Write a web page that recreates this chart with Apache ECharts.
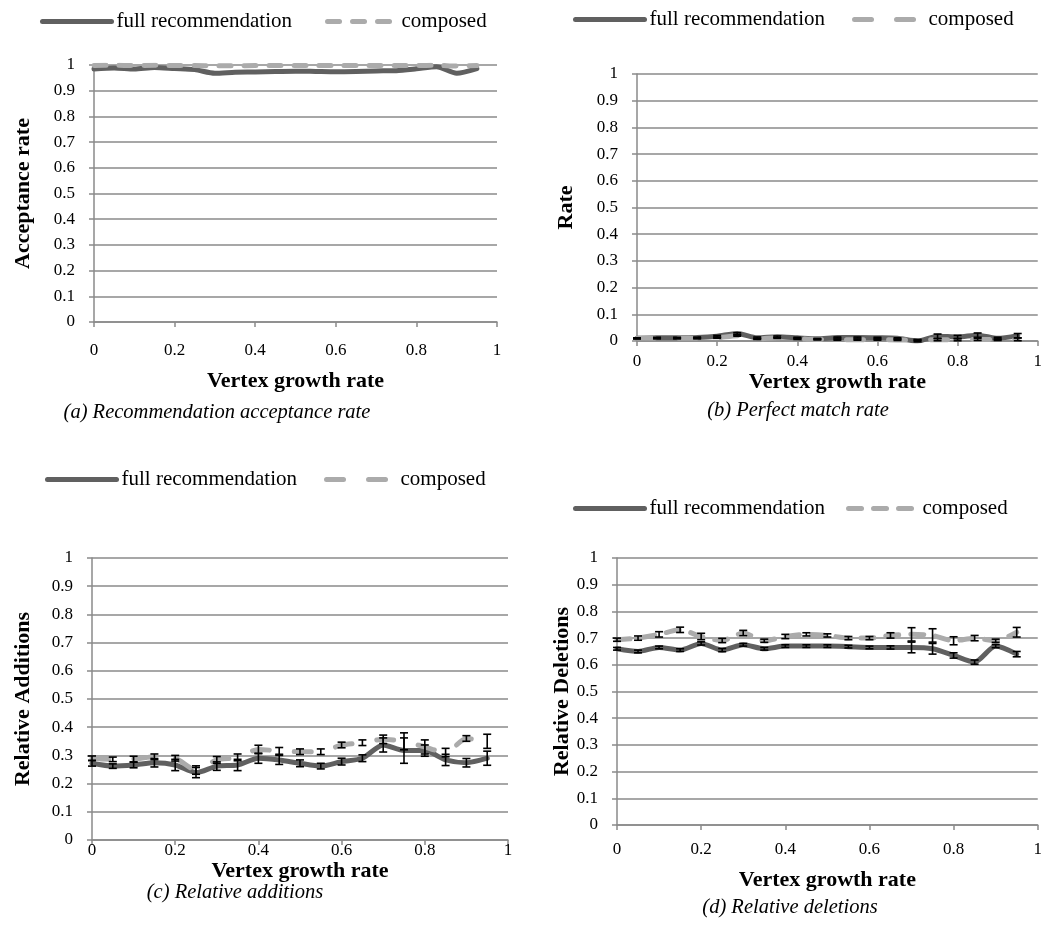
<!DOCTYPE html>
<html>
<head>
<meta charset="utf-8">
<script src="https://cdn.jsdelivr.net/npm/echarts@6/dist/echarts.min.js"></script>
<style>
html,body{margin:0;padding:0;background:#fff;}
#main{width:1045px;height:946px;}
</style>
</head>
<body>
<div id="main"></div>
<script>
// 横轴：顶点增长率
const growth = [0, 0.05, 0.1, 0.15, 0.2, 0.25, 0.3, 0.35, 0.4, 0.45, 0.5, 0.55, 0.6, 0.65, 0.7, 0.75, 0.8, 0.85, 0.9, 0.95];
const seriesNames = ['full recommendation', 'composed'];

// (a) acceptance rate
const accFull = [0.984, 0.988, 0.984, 0.99, 0.986, 0.982, 0.968, 0.972, 0.973, 0.975, 0.976, 0.975, 0.974, 0.975, 0.977, 0.978, 0.985, 0.993, 0.968, 0.986];
const accComp = [0.998, 0.999, 0.998, 0.999, 0.998, 0.998, 0.997, 0.997, 0.998, 0.998, 0.998, 0.998, 0.998, 0.998, 0.998, 0.998, 0.998, 0.999, 0.996, 0.998];

// (b) perfect match rate
const matchFull = [0.01, 0.012, 0.012, 0.013, 0.018, 0.028, 0.012, 0.016, 0.012, 0.008, 0.013, 0.013, 0.012, 0.01, 0.0, 0.018, 0.015, 0.022, 0.01, 0.02];
const matchComp = [0.01, 0.01, 0.01, 0.01, 0.012, 0.02, 0.008, 0.012, 0.008, 0.006, 0.005, 0.005, 0.005, 0.004, 0.004, 0.005, 0.005, 0.006, 0.005, 0.006];
const matchFullErr = [0.002, 0.002, 0.002, 0.002, 0.003, 0.003, 0.003, 0.003, 0.002, 0.002, 0.002, 0.002, 0.002, 0.002, 0.003, 0.008, 0.006, 0.008, 0.004, 0.008];
const matchCompErr = [0.002, 0.002, 0.002, 0.002, 0.002, 0.002, 0.002, 0.002, 0.002, 0.002, 0.002, 0.002, 0.002, 0.002, 0.002, 0.004, 0.004, 0.004, 0.003, 0.005];

// (c) relative additions
const addFull = [0.272, 0.262, 0.266, 0.274, 0.266, 0.239, 0.262, 0.266, 0.29, 0.284, 0.272, 0.262, 0.278, 0.29, 0.337, 0.317, 0.317, 0.284, 0.274, 0.29];
const addComp = [0.29, 0.286, 0.287, 0.295, 0.29, 0.248, 0.284, 0.293, 0.321, 0.316, 0.313, 0.313, 0.337, 0.345, 0.357, 0.35, 0.33, 0.31, 0.36, 0.35];
const addFullErr = [0.01, 0.008, 0.01, 0.015, 0.02, 0.018, 0.015, 0.02, 0.018, 0.016, 0.012, 0.01, 0.012, 0.012, 0.025, 0.045, 0.02, 0.02, 0.015, 0.025];
const addCompErr = [0.008, 0.008, 0.01, 0.01, 0.01, 0.015, 0.012, 0.012, 0.015, 0.012, 0.01, 0.01, 0.01, 0.01, 0.015, 0.03, 0.025, 0.015, 0.01, 0.025];

// (d) relative deletions
const delFull = [0.66, 0.65, 0.665, 0.655, 0.68, 0.655, 0.675, 0.66, 0.67, 0.67, 0.67, 0.668, 0.665, 0.665, 0.665, 0.66, 0.635, 0.61, 0.67, 0.64];
const delComp = [0.694, 0.7, 0.714, 0.731, 0.706, 0.691, 0.719, 0.69, 0.706, 0.714, 0.71, 0.7, 0.7, 0.71, 0.714, 0.71, 0.69, 0.7, 0.69, 0.722];
const delFullErr = [0.005, 0.005, 0.005, 0.005, 0.006, 0.006, 0.005, 0.005, 0.005, 0.005, 0.005, 0.005, 0.005, 0.006, 0.02, 0.02, 0.01, 0.008, 0.006, 0.01];
const delCompErr = [0.006, 0.008, 0.01, 0.01, 0.012, 0.008, 0.01, 0.006, 0.008, 0.006, 0.006, 0.006, 0.006, 0.01, 0.025, 0.025, 0.015, 0.01, 0.006, 0.018];

// 面板布局
const panels = [
    {grid: {left: 94, top: 65, width: 403, height: 257}, yName: 'Acceptance rate', yGap: 60, xGap: 48, xMargin: 20,
     legend: {left: 40, top: 11, gap: 33}, dash: [12, 13], caption: '(a) Recommendation acceptance rate', capX: 217, capY: 413,
     full: accFull, comp: accComp, fullErr: null, compErr: null},
    {grid: {left: 637, top: 74, width: 405, height: 267}, yName: 'Rate', yGap: 60, xGap: 29, xMargin: 12,
     legend: {left: 573, top: 9, gap: 27}, dash: [17, 25], caption: '(b) Perfect match rate', capX: 798, capY: 411,
     full: matchFull, comp: matchComp, fullErr: matchFullErr, compErr: matchCompErr},
    {grid: {left: 92, top: 558, width: 416, height: 282}, yName: 'Relative Additions', yGap: 58, xGap: 12, xMargin: 2,
     legend: {left: 45, top: 469, gap: 27}, dash: [17, 25], caption: '(c) Relative additions', capX: 235, capY: 893,
     full: addFull, comp: addComp, fullErr: addFullErr, compErr: addCompErr},
    {grid: {left: 617, top: 558, width: 423, height: 267}, yName: 'Relative Deletions', yGap: 36, xGap: 44, xMargin: 16,
     legend: {left: 573, top: 498, gap: 21}, dash: [13, 12], caption: '(d) Relative deletions', capX: 790, capY: 908,
     full: delFull, comp: delComp, fullErr: delFullErr, compErr: delCompErr}
];

const FONT = 'Liberation Serif';
const axisGray = '#8a8a8a';
const fullStyle = {color: '#606060', width: 5, cap: 'round', join: 'round'};

// 误差线
function renderErr(params, api){
    var x = api.value(0), lo = api.value(1), hi = api.value(2);
    var p1 = api.coord([x, hi]);
    var p2 = api.coord([x, lo]);
    var w = 4;
    var st = {stroke: '#000', lineWidth: 1.6};
    return {
        type: 'group',
        children: [
            {type: 'line', shape: {x1: p1[0], y1: p1[1], x2: p2[0], y2: p2[1]}, style: st},
            {type: 'line', shape: {x1: p1[0] - w, y1: p1[1], x2: p1[0] + w, y2: p1[1]}, style: st},
            {type: 'line', shape: {x1: p2[0] - w, y1: p2[1], x2: p2[0] + w, y2: p2[1]}, style: st}
        ]
    };
}
function errData(vals, errs){
    return growth.map(function(x, i){ return [x, vals[i] - errs[i], vals[i] + errs[i]]; });
}
function lineData(vals){
    return growth.map(function(x, i){ return [x, vals[i]]; });
}

var chartDom = document.getElementById('main');
var myChart = echarts.init(chartDom);

var option = {
    backgroundColor: '#fff',
    animation: false,
    textStyle: {fontFamily: FONT},
    grid: [], xAxis: [], yAxis: [], series: [], legend: [], title: []
};

panels.forEach(function(p, k){
    var compStyle = {color: '#ababab', width: 5, type: p.dash, cap: 'round', join: 'round'};
    option.grid.push(Object.assign({containLabel: false}, p.grid));
    option.xAxis.push({
        type: 'value', gridIndex: k, min: 0, max: 1, interval: 0.2,
        name: 'Vertex growth rate', nameLocation: 'middle', nameGap: p.xGap,
        nameTextStyle: {fontFamily: FONT, fontSize: 22, fontWeight: 'bold', color: '#000'},
        axisLine: {lineStyle: {color: axisGray, width: 1.5}},
        axisTick: {show: true, length: 5, lineStyle: {color: axisGray, width: 1.5}},
        axisLabel: {fontFamily: FONT, fontSize: 17, color: '#000', margin: p.xMargin},
        splitLine: {show: false}
    });
    option.yAxis.push({
        type: 'value', gridIndex: k, min: 0, max: 1, interval: 0.1,
        name: p.yName, nameLocation: 'middle', nameGap: p.yGap, nameRotate: 90,
        nameTextStyle: {fontFamily: FONT, fontSize: 22, fontWeight: 'bold', color: '#000'},
        axisLine: {show: true, lineStyle: {color: axisGray, width: 1.5}},
        axisTick: {show: true, length: 5, lineStyle: {color: axisGray, width: 1.5}},
        axisLabel: {fontFamily: FONT, fontSize: 17, color: '#000', margin: 19},
        splitLine: {show: true, lineStyle: {color: axisGray, width: 1.5}}
    });
    option.series.push({
        name: seriesNames[0], type: 'line', xAxisIndex: k, yAxisIndex: k,
        data: lineData(p.full), symbol: 'none', smooth: 0.25,
        lineStyle: fullStyle, itemStyle: {color: fullStyle.color}, z: 2
    });
    option.series.push({
        name: seriesNames[1], type: 'line', xAxisIndex: k, yAxisIndex: k,
        data: lineData(p.comp), symbol: 'none', smooth: 0.25,
        lineStyle: compStyle, itemStyle: {color: compStyle.color}, z: 3
    });
    if (p.fullErr) {
        option.series.push({type: 'custom', xAxisIndex: k, yAxisIndex: k, renderItem: renderErr,
            data: errData(p.full, p.fullErr), encode: {x: 0, y: [1, 2]}, z: 4, silent: true});
        option.series.push({type: 'custom', xAxisIndex: k, yAxisIndex: k, renderItem: renderErr,
            data: errData(p.comp, p.compErr), encode: {x: 0, y: [1, 2]}, z: 4, silent: true});
    }
    option.legend.push({
        left: p.legend.left, top: p.legend.top, padding: 0,
        itemWidth: 69, itemHeight: 22, itemGap: p.legend.gap,
        textStyle: {fontFamily: FONT, fontSize: 21, color: '#000'},
        data: [
            {name: seriesNames[0], lineStyle: fullStyle, itemStyle: {opacity: 0}},
            {name: seriesNames[1], lineStyle: compStyle, itemStyle: {opacity: 0}}
        ]
    });
    option.title.push({
        text: p.caption, left: p.capX, top: p.capY, textAlign: 'center', textVerticalAlign: 'middle', padding: 0,
        textStyle: {fontFamily: FONT, fontSize: 20.5, fontStyle: 'italic', fontWeight: 'normal', color: '#000'}
    });
});

myChart.setOption(option);
</script>
</body>
</html>
